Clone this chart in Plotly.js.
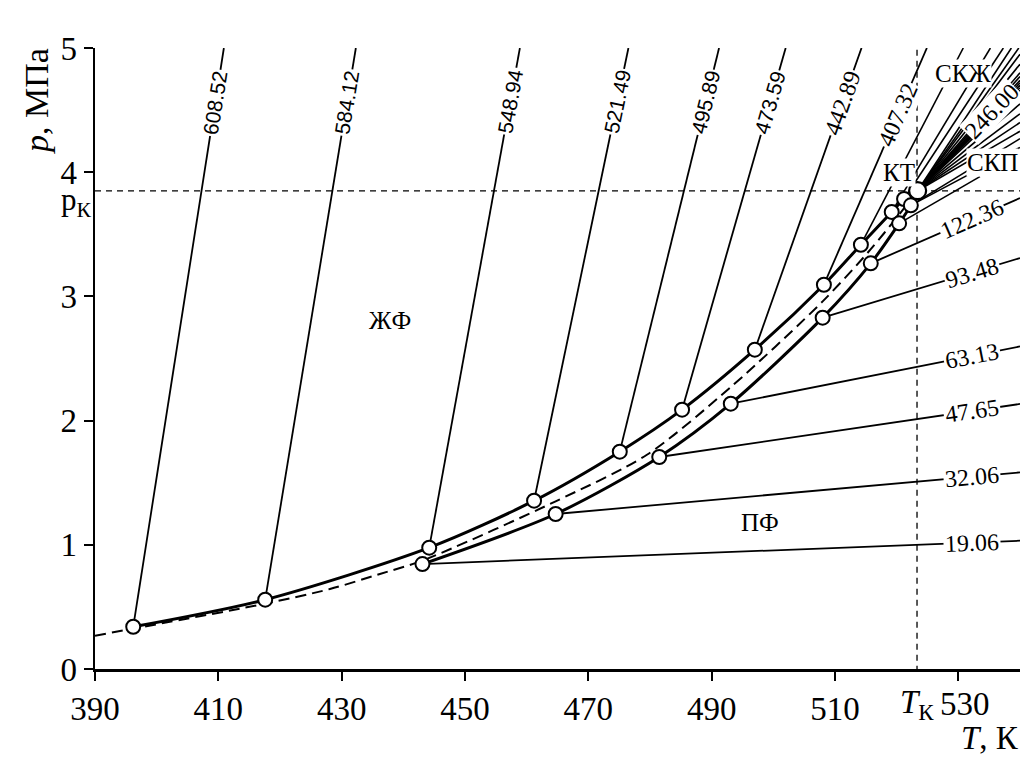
<!DOCTYPE html>
<html><head><meta charset="utf-8">
<script src="https://cdn.plot.ly/plotly-3.0.1.min.js"></script>
<style>body{margin:0;background:#fff}#chart{width:1028px;height:764px}</style>
</head><body><div id="chart"></div>
<script>
// ---- data ----
const xTicks = [390, 410, 430, 450, 470, 490, 510, 530];
const yTicks = [0, 1, 2, 3, 4, 5];
const Tk = 523.3, pk = 3.85;

// upper (liquid) boundary, circles
const T_up = [396.2, 417.6, 444.2, 461.2, 475.1, 485.2, 497.0, 508.2, 514.2, 519.2, 521.2, 523.4];
const P_up = [0.34, 0.558, 0.977, 1.355, 1.75, 2.088, 2.571, 3.094, 3.416, 3.68, 3.784, 3.851];
// lower (vapour) boundary, circles
const T_lo = [443.1, 464.7, 481.5, 493.1, 508.0, 515.8, 520.4, 522.3, 523.4];
const P_lo = [0.845, 1.248, 1.707, 2.136, 2.829, 3.266, 3.588, 3.733, 3.851];
// dashed curve
const T_da = [390, 396.2, 417.6, 428.1, 436.2, 443.2, 464.7, 479.5, 493.1, 508.0, 515.8, 520.4, 523.4];
const P_da = [0.268, 0.325, 0.526, 0.644, 0.765, 0.875, 1.35, 1.725, 2.27, 2.96, 3.38, 3.66, 3.851];

// steep lines from upper circles to p = 5
const upLabels = ['608.52', '584.12', '548.94', '521.49', '495.89', '473.59', '442.89', '407.32'];
const upEndT   = [410.9, 432.3, 458.9, 476.5, 491.2, 502.0, 514.3, 524.9];
const upLabelP = [4.56, 4.56, 4.57, 4.57, 4.56, 4.56, 4.56, 4.46];
const upSans   = [true, true, true, true, true, true, false, false];

// flat lines from lower circles to T = 540
const loLabels = ['19.06', '32.06', '47.65', '63.13', '93.48', '122.36'];
const loEndP   = [1.033, 1.583, 2.134, 2.597, 3.309, 3.792];
const loLabelT = 532.2;

// bundle near the critical point: start T, start p, end T, end p
const bStartT = [514.2, 519.2, 521.2, 523.4, 523.4, 523.4, 523.4, 523.4, 523.4, 523.4, 523.4, 523.4, 523.4, 523.4, 523.4, 523.4, 523.4, 523.4, 523.4, 522.3, 522.3, 520.4];
const bStartP = [3.416, 3.68, 3.784, 3.851, 3.851, 3.851, 3.851, 3.851, 3.851, 3.851, 3.851, 3.851, 3.851, 3.851, 3.851, 3.851, 3.851, 3.851, 3.851, 3.733, 3.733, 3.588];
const bEndT   = [530.8, 535.2, 537.3, 538.6, 539.8, 540, 540, 540, 540, 540, 540, 540, 540, 540, 540, 540, 540, 540, 540, 540, 540, 533.5];
const bEndP   = [5, 5, 5, 5, 5, 4.95, 4.87, 4.80, 4.77, 4.74, 4.72, 4.70, 4.68, 4.66, 4.63, 4.55, 4.47, 4.40, 4.33, 4.27, 4.20, 3.964];

// text labels
const regionText = ['ЖФ', 'ПФ', 'КТ', 'СКЖ', 'СКП'];
const regionT    = [437.8, 497.8, 520.4, 530.7, 535.6];
const regionP    = [2.804, 1.178, 4.0, 4.793, 4.076];
const bundleLabel = '246.00', bundleLabelT = 535.5, bundleLabelP = 4.49;

// ---- layout geometry ----
const W = 1028, H = 764, mL = 95, mR = 8, mT = 48, mB = 95;
const xr = [390, 540], yr = [0, 5];
const kx = (W - mL - mR) / (xr[1] - xr[0]);
const ky = (H - mT - mB) / (yr[1] - yr[0]);
function ang(t0, p0, t1, p1) { return -Math.atan2((p1 - p0) * ky, (t1 - t0) * kx) * 180 / Math.PI; }
const px2paperX = px => (px - mL) / (W - mL - mR);
const px2paperY = py => (H - mB - py) / (H - mT - mB);

const serif = 'Liberation Serif, Times New Roman, serif';
const sans = 'Liberation Sans, Arial, sans-serif';
const traces = [];
const ann = [];
const thin = {color: '#000', width: 1.8};
const C = {xanchor: 'center', yanchor: 'middle', showarrow: false};

// bundle first (under everything)
bStartT.forEach((t0, i) => {
  traces.push({x: [t0, bEndT[i]], y: [bStartP[i], bEndP[i]], mode: 'lines', line: {color: '#000', width: 1.6}, hoverinfo: 'skip'});
});
// tie lines
upLabels.forEach((lab, i) => {
  traces.push({x: [T_up[i], upEndT[i]], y: [P_up[i], 5], mode: 'lines', line: thin, hoverinfo: 'skip'});
  const f = (upLabelP[i] - P_up[i]) / (5 - P_up[i]);
  const t = T_up[i] + f * (upEndT[i] - T_up[i]);
  ann.push(Object.assign({x: t, y: upLabelP[i], text: lab, textangle: ang(T_up[i], P_up[i], upEndT[i], 5),
    bgcolor: '#fff', borderpad: 1, font: {family: upSans[i] ? sans : serif, size: upSans[i] ? 21 : 24, color: '#000'}}, C));
});
loLabels.forEach((lab, i) => {
  traces.push({x: [T_lo[i], 540], y: [P_lo[i], loEndP[i]], mode: 'lines', line: thin, hoverinfo: 'skip'});
  const f = (loLabelT - T_lo[i]) / (540 - T_lo[i]);
  const p = P_lo[i] + f * (loEndP[i] - P_lo[i]);
  ann.push(Object.assign({x: loLabelT, y: p, text: lab, textangle: ang(T_lo[i], P_lo[i], 540, loEndP[i]),
    bgcolor: '#fff', borderpad: 1, font: {family: serif, size: 24, color: '#000'}}, C));
});

// reference dashed lines
traces.push({x: [xr[0], xr[1]], y: [pk, pk], mode: 'lines', line: {color: '#000', width: 1.3, dash: '6px,5px'}, hoverinfo: 'skip'});
traces.push({x: [Tk, Tk], y: [-0.11, 5], mode: 'lines', line: {color: '#000', width: 1.3, dash: '6px,5px'}, hoverinfo: 'skip', cliponaxis: false});

// curves
traces.push({x: T_da, y: P_da, mode: 'lines', line: {color: '#000', width: 2, dash: '11px,6px', shape: 'spline', smoothing: 0.8}, hoverinfo: 'skip'});
traces.push({x: T_up, y: P_up, mode: 'lines', line: {color: '#000', width: 3, shape: 'spline', smoothing: 0.8}, hoverinfo: 'skip'});
traces.push({x: T_lo, y: P_lo, mode: 'lines', line: {color: '#000', width: 3, shape: 'spline', smoothing: 0.8}, hoverinfo: 'skip'});
// circles
const mk = {color: '#fff', size: 14, line: {color: '#000', width: 2}};
traces.push({x: T_up.slice(0, -1), y: P_up.slice(0, -1), mode: 'markers', marker: mk, hoverinfo: 'skip', cliponaxis: false});
traces.push({x: T_lo.slice(0, -1), y: P_lo.slice(0, -1), mode: 'markers', marker: mk, hoverinfo: 'skip'});
traces.push({x: [T_up[T_up.length - 1]], y: [P_up[P_up.length - 1]], mode: 'markers', marker: {color: '#fff', size: 17, line: {color: '#000', width: 2.2}}, hoverinfo: 'skip'});

// text annotations
regionText.forEach((s, i) => {
  ann.push(Object.assign({x: regionT[i], y: regionP[i], text: s, bgcolor: i >= 2 ? '#fff' : 'rgba(0,0,0,0)', borderpad: 0,
    font: {family: serif, size: 25, color: '#000'}}, C));
});
ann.push(Object.assign({x: bundleLabelT, y: bundleLabelP, text: bundleLabel, textangle: -46, bgcolor: '#fff', borderpad: 0,
  font: {family: serif, size: 24, color: '#000'}}, C));
ann.push(Object.assign({xref: 'paper', yref: 'paper', x: px2paperX(36), y: px2paperY(101), text: '<i>p</i>, МПа',
  textangle: -90, font: {family: serif, size: 34, color: '#000'}}, C));
ann.push(Object.assign({xref: 'paper', yref: 'paper', x: px2paperX(990), y: px2paperY(738), text: '<i>T</i>, К',
  font: {family: serif, size: 33, color: '#000'}}, C));
ann.push(Object.assign({xref: 'x', yref: 'paper', x: Tk, y: px2paperY(704), text: '<i>T</i><sub>К</sub>',
  font: {family: serif, size: 33, color: '#000'}}, C));
ann.push(Object.assign({xref: 'x', yref: 'paper', x: 530, xshift: 7, y: px2paperY(704), text: '530',
  font: {family: serif, size: 33, color: '#000'}}, C));
ann.push(Object.assign({xref: 'paper', yref: 'y', x: px2paperX(76), y: pk - 0.09, text: 'p<sub>К</sub>',
  font: {family: serif, size: 31, color: '#000'}}, C));

const axisCommon = {showgrid: false, zeroline: false, showline: true, linecolor: '#000', linewidth: 2.5,
  ticks: 'outside', ticklen: 9, tickwidth: 2, tickcolor: '#000', mirror: false,
  tickfont: {family: serif, size: 33, color: '#000'}};
const layout = {
  width: W, height: H, margin: {l: mL, r: mR, t: mT, b: mB}, showlegend: false,
  paper_bgcolor: '#fff', plot_bgcolor: '#fff',
  xaxis: Object.assign({}, axisCommon, {range: xr, tickvals: xTicks, ticktext: xTicks.map(v => v === 530 ? ' ' : String(v))}),
  yaxis: Object.assign({}, axisCommon, {range: yr, tickvals: yTicks, ticktext: yTicks.map(String)}),
  annotations: ann
};
Plotly.newPlot('chart', traces, layout, {staticPlot: true, displayModeBar: false});
</script></body></html>
